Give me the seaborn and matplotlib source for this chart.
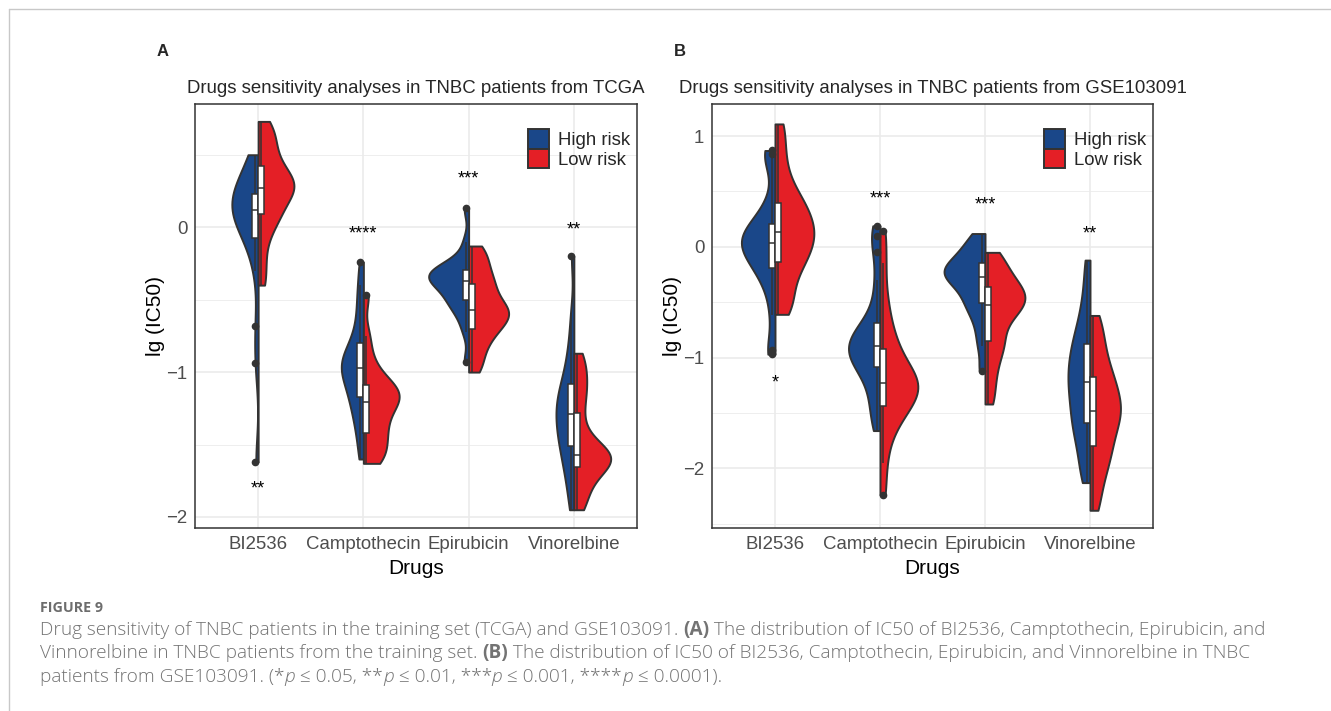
import numpy as np
import pandas as pd
import matplotlib.pyplot as plt
import matplotlib.patches as mpatches
import seaborn as sns

drugs = ["BI2536", "Camptothecin", "Epirubicin", "Vinorelbine"]
groups = ["High risk", "Low risk"]
colors = {"High risk": "#1A4789", "Low risk": "#E41F26"}

# lg(IC50) values, panel A (TCGA)
tcga_bi2536_high = [-1.62, -0.94, -0.68, -0.30, -0.12, -0.06, 0.00, 0.05, 0.08, 0.11,
                    0.13, 0.15, 0.17, 0.19, 0.22, 0.26, 0.30, 0.36, 0.42, 0.50]
tcga_bi2536_low = [-0.40, -0.25, -0.10, 0.00, 0.06, 0.10, 0.15, 0.20, 0.24, 0.26,
                   0.28, 0.31, 0.34, 0.37, 0.41, 0.47, 0.53, 0.60, 0.66, 0.73]
tcga_campto_high = [-1.60, -1.45, -1.35, -1.27, -1.20, -1.16, -1.10, -1.05, -1.01, -0.98,
                    -0.96, -0.93, -0.90, -0.86, -0.82, -0.74, -0.64, -0.52, -0.40, -0.24]
tcga_campto_low = [-1.63, -1.60, -1.56, -1.50, -1.45, -1.41, -1.36, -1.31, -1.26, -1.22,
                   -1.19, -1.17, -1.15, -1.12, -1.10, -1.06, -1.00, -0.90, -0.75, -0.47]
tcga_epi_high = [-0.93, -0.72, -0.62, -0.56, -0.52, -0.50, -0.46, -0.42, -0.39, -0.38,
                 -0.36, -0.34, -0.33, -0.31, -0.30, -0.29, -0.27, -0.22, -0.10, 0.13]
tcga_epi_low = [-1.00, -0.92, -0.84, -0.78, -0.73, -0.69, -0.66, -0.63, -0.60, -0.58,
                -0.56, -0.53, -0.49, -0.44, -0.40, -0.36, -0.31, -0.25, -0.19, -0.13]
tcga_vino_high = [-1.95, -1.80, -1.70, -1.62, -1.55, -1.50, -1.45, -1.40, -1.35, -1.31,
                  -1.27, -1.23, -1.18, -1.14, -1.10, -1.02, -0.92, -0.80, -0.60, -0.20]
tcga_vino_low = [-1.95, -1.88, -1.80, -1.74, -1.69, -1.64, -1.62, -1.60, -1.59, -1.58,
                 -1.57, -1.54, -1.49, -1.42, -1.31, -1.20, -1.12, -1.04, -0.96, -0.87]

# lg(IC50) values, panel B (GSE103091)
gse_bi2536_high = [-0.97, -0.93, -0.62, -0.40, -0.28, -0.20, -0.15, -0.10, -0.05, 0.00, 0.02,
                   0.04, 0.07, 0.10, 0.14, 0.18, 0.22, 0.30, 0.45, 0.80, 0.84, 0.87]
gse_bi2536_low = [-0.61, -0.52, -0.40, -0.28, -0.18, -0.12, -0.06, 0.00, 0.06, 0.11,
                  0.15, 0.20, 0.26, 0.33, 0.38, 0.45, 0.55, 0.70, 0.90, 1.11]
gse_campto_high = [-1.66, -1.52, -1.40, -1.28, -1.17, -1.10, -1.06, -1.02, -0.98, -0.94, -0.91,
                   -0.89, -0.86, -0.82, -0.77, -0.72, -0.68, -0.50, -0.30, -0.05, 0.10, 0.19]
gse_campto_low = [-2.24, -1.95, -1.72, -1.60, -1.50, -1.45, -1.40, -1.35, -1.30, -1.26, -1.24,
                  -1.22, -1.19, -1.14, -1.07, -0.98, -0.90, -0.80, -0.65, -0.45, -0.15, 0.14]
gse_epi_high = [-1.12, -0.90, -0.75, -0.62, -0.55, -0.49, -0.43, -0.37, -0.32, -0.28,
                -0.26, -0.24, -0.21, -0.19, -0.16, -0.12, -0.07, -0.02, 0.05, 0.12]
gse_epi_low = [-1.42, -1.25, -1.10, -0.98, -0.88, -0.84, -0.72, -0.65, -0.58, -0.54,
               -0.52, -0.48, -0.44, -0.41, -0.37, -0.33, -0.27, -0.20, -0.12, -0.05]
gse_vino_high = [-2.13, -2.00, -1.85, -1.72, -1.64, -1.57, -1.48, -1.40, -1.32, -1.25,
                 -1.19, -1.12, -1.05, -0.98, -0.90, -0.82, -0.72, -0.58, -0.38, -0.12]
gse_vino_low = [-2.38, -2.20, -2.05, -1.95, -1.86, -1.78, -1.70, -1.62, -1.55, -1.50,
                -1.46, -1.40, -1.33, -1.26, -1.20, -1.12, -1.02, -0.90, -0.77, -0.62]

# half-violin widths (category units) as they look in the figure
tcga_halfw_high = [0.25, 0.21, 0.38, 0.17]
tcga_halfw_low = [0.34, 0.34, 0.38, 0.35]
gse_halfw_high = [0.32, 0.30, 0.39, 0.21]
gse_halfw_low = [0.37, 0.36, 0.38, 0.29]

# significance labels
tcga_stars = ["**", "****", "***", "**"]
tcga_star_y = [-1.81, -0.05, 0.33, -0.02]
gse_stars = ["*", "***", "***", "**"]
gse_star_y = [-1.23, 0.43, 0.38, 0.12]


def make_df(high, low):
    rows = []
    for d, h, l in zip(drugs, high, low):
        rows += [(d, "High risk", v) for v in h]
        rows += [(d, "Low risk", v) for v in l]
    return pd.DataFrame(rows, columns=["Drug", "Risk", "IC50"])


tcga = make_df([tcga_bi2536_high, tcga_campto_high, tcga_epi_high, tcga_vino_high],
               [tcga_bi2536_low, tcga_campto_low, tcga_epi_low, tcga_vino_low])
gse = make_df([gse_bi2536_high, gse_campto_high, gse_epi_high, gse_vino_high],
              [gse_bi2536_low, gse_campto_low, gse_epi_low, gse_vino_low])

sns.set_style("white")
plt.rcParams["font.family"] = ["Liberation Sans", "DejaVu Sans"]

W, H = 1331, 711
fig = plt.figure(figsize=(W / 100, H / 100), dpi=100)


def rescale_halves(ax, halfw_high, halfw_low):
    # every half violin comes out at width/2; stretch each to its own width
    for coll in ax.collections:
        for path in coll.get_paths():
            xs = path.vertices[:, 0]
            if np.isclose(xs.max(), round(xs.max())):
                c, hw = round(xs.max()), halfw_high
            else:
                c, hw = round(xs.min()), halfw_low
            span = np.abs(xs - c).max()
            path.vertices[:, 0] = c + (xs - c) * hw[int(c)] / span


def draw_panel(rect, df, halfw_high, halfw_low, stars, star_y, ylim, yticks, yminor,
               title, letter, lx):
    ax = fig.add_axes(rect)
    ax.set_axisbelow(True)
    sns.violinplot(data=df, x="Drug", y="IC50", hue="Risk", order=drugs, hue_order=groups,
                   split=True, inner=None, cut=0, bw_adjust=0.6, density_norm="width",
                   width=0.8, palette=colors, saturation=1, linecolor="#333333",
                   linewidth=1.4, legend=False, ax=ax)
    rescale_halves(ax, halfw_high, halfw_low)
    sns.boxplot(data=df, x="Drug", y="IC50", hue="Risk", order=drugs, hue_order=groups,
                dodge=True, width=0.115, gap=0, palette={g: "white" for g in groups},
                saturation=1, linecolor="#333333", linewidth=1.1, fliersize=4.5,
                flierprops=dict(marker="o", markerfacecolor="#333333",
                                markeredgecolor="#333333"),
                showcaps=False, legend=False, ax=ax)
    for i, (s, y) in enumerate(zip(stars, star_y)):
        ax.text(i, y, s, ha="center", va="center", fontsize=13, color="black")

    ax.set_xlim(-0.6, 3.6)
    ax.set_ylim(*ylim)
    ax.set_yticks(yticks)
    ax.set_yticks(yminor, minor=True)
    ax.grid(which="major", color="#EBEBEB", linewidth=1.2)
    ax.grid(which="minor", axis="y", color="#EBEBEB", linewidth=0.6)
    for sp in ax.spines.values():
        sp.set_color("#333333")
        sp.set_linewidth(1.1)
    ax.tick_params(which="major", length=3.5, width=1.1, color="#333333",
                   labelsize=13.4, labelcolor="#4D4D4D", pad=2)
    ax.tick_params(which="minor", length=0)
    ax.set_xlabel("Drugs", fontsize=15, color="black", labelpad=4.5)
    ax.set_ylabel("lg (IC50)", fontsize=15, color="black")
    ax.yaxis.set_label_coords(-0.068, 0.5)
    ax.set_title(title, fontsize=13.4, pad=8)

    handles = [mpatches.Patch(facecolor=colors[g], edgecolor="#333333", linewidth=1.4)
               for g in groups]
    ax.legend(handles, groups, loc="upper left", bbox_to_anchor=(0.753, 0.94),
              frameon=False, fontsize=13.4, handlelength=1.15, handleheight=1.2,
              labelspacing=0.0, handletextpad=0.45, borderpad=0, borderaxespad=0)
    fig.text(lx / W, 1 - 52 / H, letter, fontsize=12, fontweight="bold",
             ha="center", va="center")
    return ax


draw_panel([195 / W, 1 - 528 / H, 442 / W, 424 / H], tcga, tcga_halfw_high, tcga_halfw_low,
           tcga_stars, tcga_star_y, (-2.076, 0.85), [-2, -1, 0], [-1.5, -0.5, 0.5],
           "Drugs sensitivity analyses in TNBC patients from TCGA", "A", 163)
draw_panel([712 / W, 1 - 528 / H, 441 / W, 424 / H], gse, gse_halfw_high, gse_halfw_low,
           gse_stars, gse_star_y, (-2.54, 1.29), [-2, -1, 0, 1], [-2.5, -1.5, -0.5, 0.5],
           "Drugs sensitivity analyses in TNBC patients from GSE103091", "B", 680)

# page frame (top and left rules)
fig.add_artist(plt.Line2D([9 / W, 1], [1 - 9 / H, 1 - 9 / H], color="#C8C8C8", linewidth=1))
fig.add_artist(plt.Line2D([9 / W, 9 / W], [0, 1 - 9 / H], color="#C8C8C8", linewidth=1))

# caption
cap = dict(family=["Open Sans", "DejaVu Sans"], fontsize=13.7, color="#737373", va="center")
fig.text(40 / W, 1 - 608 / H, "FIGURE 9", fontweight="bold",
         **{**cap, "fontsize": 10.3, "color": "#6D6D6D"})

renderer = fig.canvas.get_renderer()


def draw_runs(x, y, runs):
    for s, weight, style in runs:
        t = fig.text(x, y, s, fontweight=weight, fontstyle=style, **cap)
        x += t.get_window_extent(renderer=renderer).width / W


n = "light"
r = "normal"
draw_runs(40 / W, 1 - 630 / H, [
    ("Drug sensitivity of TNBC patients in the training set (TCGA) and GSE103091. ", n, r),
    ("(A)", "bold", r),
    (" The distribution of IC50 of BI2536, Camptothecin, Epirubicin, and", n, r)])
draw_runs(40 / W, 1 - 653 / H, [
    ("Vinnorelbine in TNBC patients from the training set. ", n, r),
    ("(B)", "bold", r),
    (" The distribution of IC50 of BI2536, Camptothecin, Epirubicin, and Vinnorelbine in TNBC", n, r)])
draw_runs(40 / W, 1 - 677 / H, [
    ("patients from GSE103091. (*", n, r), ("p", n, "italic"), (" \u2264 0.05, **", n, r),
    ("p", n, "italic"), (" \u2264 0.01, ***", n, r), ("p", n, "italic"),
    (" \u2264 0.001, ****", n, r), ("p", n, "italic"), (" \u2264 0.0001).", n, r)])

fig.savefig("out.png", dpi=100)
